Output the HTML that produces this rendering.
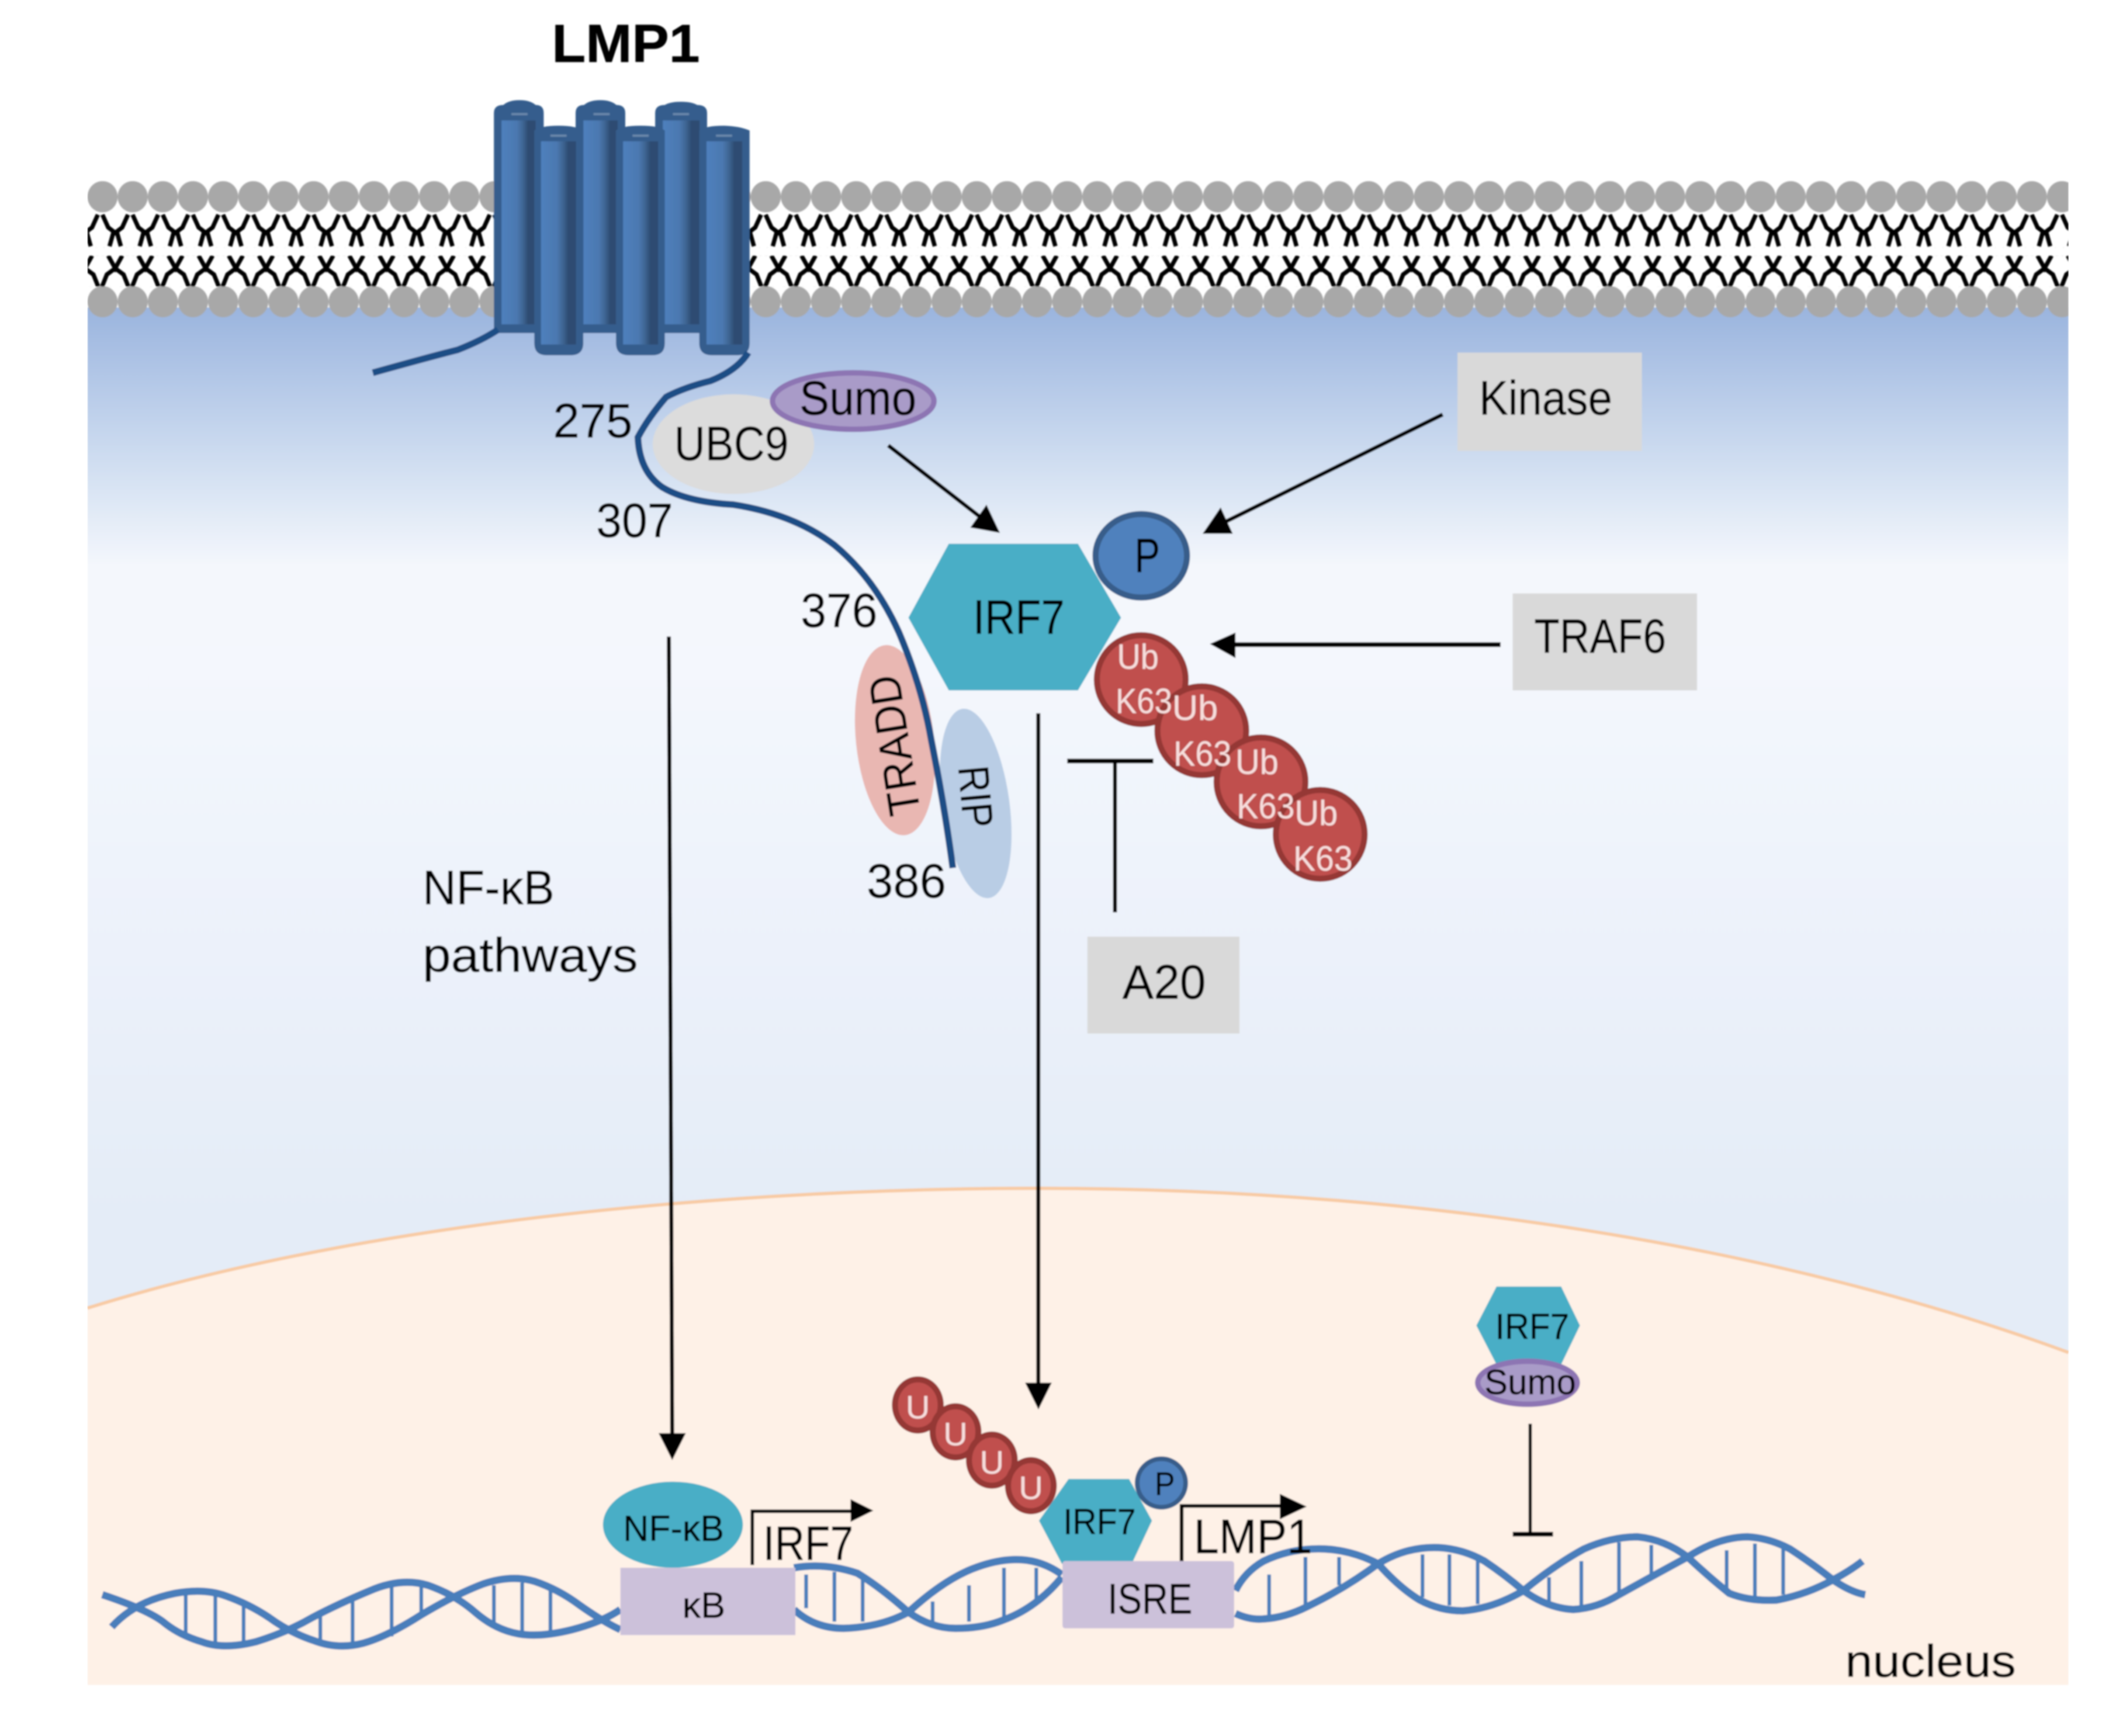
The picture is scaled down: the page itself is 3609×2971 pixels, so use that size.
<!DOCTYPE html>
<html>
<head>
<meta charset="utf-8">
<style>
html,body{margin:0;padding:0;background:#fff}
svg{display:block}
text{font-family:"Liberation Sans","DejaVu Sans",sans-serif;fill:#000;stroke:#000;stroke-width:.25}
text.w{fill:#f7dedd;stroke:none}
</style>
</head>
<body>
<svg xmlns="http://www.w3.org/2000/svg" width="3609" height="2971" viewBox="0 0 1567.1 1290" preserveAspectRatio="none">
<defs>
<linearGradient id="cyt" gradientUnits="userSpaceOnUse" x1="0" y1="228" x2="0" y2="900">
<stop offset="0" stop-color="#9ab4de"/>
<stop offset="0.174" stop-color="#d0def1"/>
<stop offset="0.286" stop-color="#f4f7fc"/>
<stop offset="0.4" stop-color="#f4f7fd"/>
<stop offset="1" stop-color="#e4ecf7"/>
</linearGradient>
<linearGradient id="cyl" x1="0" y1="0" x2="1" y2="0">
<stop offset="0" stop-color="#4f80bd"/>
<stop offset="0.45" stop-color="#4b78b0"/>
<stop offset="0.62" stop-color="#3f6694"/>
<stop offset="0.78" stop-color="#2d4c72"/>
<stop offset="1" stop-color="#2d4c72"/>
</linearGradient>
<pattern id="headsT" patternUnits="userSpaceOnUse" x="65" y="134.5" width="22.4" height="23.5">
<ellipse cx="11.2" cy="11.7" rx="11.2" ry="11.6" fill="#a8a8a8"/>
</pattern>
<pattern id="headsB" patternUnits="userSpaceOnUse" x="65" y="212.5" width="22.4" height="23.5">
<ellipse cx="11.2" cy="11.7" rx="11.2" ry="11.6" fill="#a8a8a8"/>
</pattern>
<pattern id="t1" patternUnits="userSpaceOnUse" x="74.4" y="159" width="22.4" height="25">
<path d="M1.7 0.5 L6 10 L11.2 14 L16.4 10 L20.7 0.5 M9.8 14 L7 24 M12.6 14 L15.4 24" fill="none" stroke="#000" stroke-width="3.2"/>
</pattern>
<pattern id="t2" patternUnits="userSpaceOnUse" x="74.4" y="190" width="22.4" height="23">
<path d="M6 0 L11.2 9.4 L16.4 0 M11.2 9.4 L5 14 L1.4 23 M11.2 9.4 L17.4 14 L21 23" fill="none" stroke="#000" stroke-width="3.2"/>
</pattern>
<filter id="soft" x="0" y="0" width="100%" height="100%" filterUnits="objectBoundingBox">
<feGaussianBlur stdDeviation="0.55"/>
</filter>
<g id="ub">
<ellipse cx="0" cy="0" rx="33" ry="33" fill="#c0504d" stroke="#953735" stroke-width="4.5"/>
</g>
</defs>

<rect width="1567.1" height="1290" fill="#fff"/>
<g filter="url(#soft)">

<!-- cytoplasm -->
<rect x="65" y="228.5" width="1472" height="1023.5" fill="url(#cyt)"/>

<!-- nucleus -->
<path d="M65 972 C280 905 560 883 770 883 C1050 883 1320 925 1537 1005 V1252 H65 Z" fill="#fef1e7"/>
<path d="M65 972 C280 905 560 883 770 883 C1050 883 1320 925 1537 1005" fill="none" stroke="#f8cba4" stroke-width="2.5"/>

<!-- membrane -->
<rect x="65" y="134.5" width="1472" height="23.5" fill="url(#headsT)"/>
<rect x="65" y="212.5" width="1472" height="23.5" fill="url(#headsB)"/>
<rect x="65" y="159" width="1472" height="25" fill="url(#t1)"/>
<rect x="65" y="190" width="1472" height="23" fill="url(#t2)"/>

<!-- LMP1 helices (back) -->
<g fill="#365d8d">
<path d="M367 84 Q367 78 374 78 Q378 74.4 386 74.4 Q394 74.4 398 78 Q404 78 404 84 V247.5 H367Z"/>
<path d="M427.7 84 Q427.7 78 434 78 Q438 74.4 446 74.4 Q454 74.4 458 78 Q464.6 78 464.6 84 V247.5 H427.7Z"/>
<path d="M486.8 84 Q486.8 78 494 78 Q498 75.6 506 75.6 Q514 75.6 518 78 Q525.4 78 525.4 84 V247.5 H486.8Z"/>
</g>
<g fill="url(#cyl)">
<rect x="372.7" y="89.5" width="25.3" height="151.5"/>
<rect x="433.5" y="89.5" width="25.5" height="151.5"/>
<rect x="492.5" y="89.5" width="27.3" height="151.5"/>
</g>
<!-- front -->
<g fill="#365d8d">
<path d="M397 97 Q402 93.4 415 93.4 Q428 93.4 433.4 97 V255 Q433.4 264 424 264 H406 Q397 264 397 255Z"/>
<path d="M457.7 97 Q462 93.4 476 93.4 Q490 93.4 494 97 V255 Q494 264 485 264 H467 Q457.7 264 457.7 255Z"/>
<path d="M519.6 97 Q524 93.4 538 93.4 Q550 93.8 557 97 V255 Q557 264 548 264 H529 Q519.6 264 519.6 255Z"/>
</g>
<g fill="url(#cyl)">
<rect x="402" y="105" width="26" height="151"/>
<rect x="463" y="105" width="26" height="151"/>
<rect x="525" y="105" width="26.5" height="151"/>
</g>
<g fill="#6a88ab">
<rect x="380" y="84" width="12" height="1.6"/><rect x="441" y="84" width="12" height="1.6"/><rect x="500" y="84" width="12" height="1.6"/>
<rect x="409" y="100" width="12" height="1.6"/><rect x="470" y="100" width="12" height="1.6"/><rect x="532" y="100" width="12" height="1.6"/>
</g>

<text x="410" y="46" font-size="40" font-weight="bold" textLength="110" lengthAdjust="spacingAndGlyphs">LMP1</text>

<!-- UBC9 / Sumo -->
<ellipse cx="545" cy="330" rx="60" ry="37" fill="#dcdcdc"/>
<ellipse cx="634" cy="298" rx="60" ry="21" fill="#a99bc8" stroke="#8d74b3" stroke-width="4"/>

<!-- TRADD / RIP -->
<ellipse cx="665" cy="550" rx="29" ry="71" fill="#e9b7b2" transform="rotate(-6 665 550)"/>
<ellipse cx="725" cy="597" rx="25" ry="71" fill="#b9cde5" transform="rotate(-8 725 597)"/>

<!-- LMP1 tails -->
<path d="M277 277 Q320 265 340 260 Q358 253 370 245" fill="none" stroke="#1f4e85" stroke-width="5"/>
<path d="M556 262 Q548 275 528 283 Q508 288 495 295 Q482 310 474 325 Q475 350 492 362 Q510 373 545 375 Q590 382 620 405 Q650 430 668 470 Q685 510 692 550 Q702 600 708 645" fill="none" stroke="#1f4e85" stroke-width="5"/>

<!-- IRF7 -->
<polygon points="705,404 801,404 833,459 801,513 705,513 675,459" fill="#4aaec6"/>
<ellipse cx="848" cy="413" rx="34" ry="31" fill="#4f81bd" stroke="#385d8a" stroke-width="4.5"/>

<!-- Ub chain -->
<use href="#ub" x="848" y="505"/>
<use href="#ub" x="893" y="543"/>
<use href="#ub" x="937" y="581"/>
<use href="#ub" x="981" y="620"/>

<!-- boxes -->
<rect x="1083" y="262" width="137" height="73" fill="#d9d9d9"/>
<rect x="1124" y="441" width="137" height="72" fill="#d9d9d9"/>
<rect x="808" y="696" width="113" height="72" fill="#d9d9d9"/>

<!-- connectors -->
<g stroke="#000" fill="none">
<line x1="660" y1="331" x2="732" y2="387" stroke-width="3"/>
<line x1="1072" y1="308" x2="908" y2="389" stroke-width="3"/>
<line x1="1115" y1="479" x2="915" y2="479" stroke-width="3.5"/>
<line x1="497" y1="473" x2="499.5" y2="1070" stroke-width="3"/>
<line x1="771.5" y1="530" x2="771.5" y2="1032" stroke-width="3"/>
<line x1="793" y1="565.5" x2="857" y2="565.5" stroke-width="3.5"/>
<line x1="828.5" y1="565" x2="828.5" y2="678" stroke-width="3"/>
<line x1="1137" y1="1058" x2="1137" y2="1140" stroke-width="2.5"/>
<line x1="1124" y1="1140" x2="1154" y2="1140" stroke-width="3.5"/>
</g>
<g fill="#000">
<polygon points="743,396 733,375 721,392"/>
<polygon points="893.6,396.6 907,377 916,396.6"/>
<polygon points="899,478.5 918,470 918,489"/>
<polygon points="489.4,1065 509.6,1065 499.5,1085"/>
<polygon points="761.7,1027.5 781.5,1027.5 771.6,1047.4"/>
</g>

<!-- DNA -->
<g fill="none" stroke="#4a7ebb" stroke-width="5.5" stroke-linecap="butt">
<path d="M76 1185 Q109 1196 121 1205 Q133 1215 150 1220 Q166 1226 190 1220 Q213 1213 232 1202 Q251 1192 275 1182 Q298 1172 318 1178 Q338 1185 353 1198 Q368 1211 385 1214 Q401 1217 425 1211 Q448 1205 461 1196"/>
<path d="M83 1209 Q100 1190 130 1184 Q152 1180 168 1186 Q185 1192 200 1202 Q215 1213 233 1219 Q251 1226 270 1221 Q288 1216 313 1200 Q338 1185 359 1177 Q380 1170 397 1175 Q415 1181 431 1193 Q448 1205 461 1211"/>
<path d="M590 1165 Q613 1161 637 1169 Q655 1180 675 1198 Q692 1210 710 1210 Q730 1210 745 1204 Q770 1195 789 1172"/>
<path d="M590 1196 Q605 1210 627 1210 Q655 1209 675 1198 Q700 1175 722 1166 Q742 1158 759 1159 Q775 1160 789 1170"/>
<path d="M918 1182 Q925 1168 939 1160 Q960 1150 984 1151 Q1005 1152 1024 1162 Q1040 1180 1055 1189 Q1070 1197 1087 1197 Q1110 1195 1132 1182 Q1155 1163 1177 1151 Q1197 1142 1217 1142 Q1237 1144 1254 1157 Q1270 1172 1285 1184 Q1300 1190 1320 1189 Q1342 1185 1362 1174 Q1375 1167 1384 1160"/>
<path d="M918 1199 Q929 1204 939 1203 Q955 1202 971 1194 Q1000 1180 1024 1162 Q1045 1149 1069 1150 Q1087 1151 1103 1160 Q1118 1170 1132 1182 Q1150 1195 1169 1196 Q1187 1195 1203 1185 Q1230 1170 1254 1157 Q1277 1142 1299 1142 Q1315 1143 1330 1151 Q1347 1162 1362 1174 Q1375 1183 1386 1185"/>
</g>
<path d="M138 1185V1215M160 1183V1222M181 1190V1220M238 1198V1220M262 1190V1222M291 1177V1216M313 1178V1198M367 1178V1208M388 1176V1212M409 1178V1212M599 1170V1195M620 1168V1205M641 1172V1205M693 1190V1205M720 1178V1205M746 1165V1203M770 1165V1190M943 1170V1200M970 1157V1194M995 1157V1178M1057 1155V1187M1077 1155V1193M1098 1158V1192M1151 1172V1192M1175 1160V1193M1203 1146V1184M1227 1148V1172M1283 1152V1180M1304 1147V1186M1325 1150V1185" stroke="#4a7ebb" stroke-width="2.8" fill="none"/>

<!-- kB complex -->
<ellipse cx="500" cy="1133" rx="52" ry="32" fill="#4aaec6"/>
<rect x="461" y="1165" width="130" height="50" fill="#ccc1da"/>
<path d="M559 1163 V1123 H634" fill="none" stroke="#000" stroke-width="2.6"/>
<polygon points="632,1114 649,1122.5 632,1131" fill="#000"/>

<!-- U chain -->
<g fill="#c0504d" stroke="#953735" stroke-width="4.5">
<ellipse cx="682" cy="1044" rx="17" ry="19"/>
<ellipse cx="710" cy="1064" rx="17" ry="19"/>
<ellipse cx="737" cy="1085" rx="17" ry="19"/>
<ellipse cx="766" cy="1104" rx="17" ry="19"/>
</g>

<!-- ISRE complex -->
<polygon points="794,1099 839,1099 856,1130 841,1162 789,1162 772,1130" fill="#4aaec6"/>
<ellipse cx="863" cy="1102" rx="18" ry="18" fill="#4f81bd" stroke="#385d8a" stroke-width="3.5"/>
<rect x="789.5" y="1160" width="127.5" height="50" rx="2" fill="#ccc1da"/>
<path d="M878 1160 V1119 H954" fill="none" stroke="#000" stroke-width="2.8"/>
<polygon points="951,1110 971,1119.5 951,1129" fill="#000"/>

<!-- IRF7-Sumo -->
<polygon points="1112,956 1160,956 1174,985 1160,1014 1112,1014 1097,985" fill="#4aaec6"/>
<ellipse cx="1135" cy="1027.5" rx="37" ry="16" fill="#a99bc8" stroke="#8d74b3" stroke-width="4"/>

<!-- labels -->
<g font-size="36">
<text x="411" y="325" textLength="59" lengthAdjust="spacingAndGlyphs">275</text>
<text x="443" y="399" textLength="57" lengthAdjust="spacingAndGlyphs">307</text>
<text x="595" y="466" textLength="57" lengthAdjust="spacingAndGlyphs">376</text>
<text x="644" y="667" textLength="59" lengthAdjust="spacingAndGlyphs">386</text>
<text x="501" y="342" textLength="85" lengthAdjust="spacingAndGlyphs">UBC9</text>
<text x="594" y="308" textLength="87" lengthAdjust="spacingAndGlyphs">Sumo</text>
<text x="1099" y="308" textLength="99" lengthAdjust="spacingAndGlyphs">Kinase</text>
<text x="1140" y="485" textLength="98" lengthAdjust="spacingAndGlyphs">TRAF6</text>
<text x="834" y="742" textLength="62" lengthAdjust="spacingAndGlyphs">A20</text>
<text x="723" y="471" textLength="68" lengthAdjust="spacingAndGlyphs">IRF7</text>
<text x="843" y="425" textLength="19" lengthAdjust="spacingAndGlyphs">P</text>
<text x="314" y="672" textLength="98" lengthAdjust="spacingAndGlyphs">NF-κB</text>
<text x="314" y="722" textLength="160" lengthAdjust="spacingAndGlyphs">pathways</text>
<text x="567" y="1159" textLength="67" lengthAdjust="spacingAndGlyphs">IRF7</text>
<text x="887" y="1154" textLength="88" lengthAdjust="spacingAndGlyphs">LMP1</text>
<text x="1371" y="1246" font-size="34" textLength="127" lengthAdjust="spacingAndGlyphs">nucleus</text>
</g>
<text transform="translate(684 604) rotate(-99)" font-size="33" textLength="105" lengthAdjust="spacingAndGlyphs">TRADD</text>
<text transform="translate(712 570) rotate(85)" font-size="32" textLength="46" lengthAdjust="spacingAndGlyphs">RIP</text>

<g font-size="27">
<text x="463" y="1145" textLength="75" lengthAdjust="spacingAndGlyphs">NF-κB</text>
<text x="507" y="1202" textLength="32" lengthAdjust="spacingAndGlyphs">κB</text>
<text x="790" y="1140" textLength="54" lengthAdjust="spacingAndGlyphs">IRF7</text>
<text x="858" y="1111" font-size="24" textLength="15" lengthAdjust="spacingAndGlyphs">P</text>
<text x="823" y="1199" font-size="32" textLength="63" lengthAdjust="spacingAndGlyphs">ISRE</text>
<text x="1111" y="995" textLength="55" lengthAdjust="spacingAndGlyphs">IRF7</text>
<text x="1103" y="1036" font-size="26" textLength="68" lengthAdjust="spacingAndGlyphs">Sumo</text>
</g>

<g font-size="26">
<text class="w" x="830" y="497" textLength="31" lengthAdjust="spacingAndGlyphs">Ub</text>
<text class="w" x="829" y="530" textLength="42" lengthAdjust="spacingAndGlyphs">K63</text>
<text class="w" x="871" y="535" textLength="34" lengthAdjust="spacingAndGlyphs">Ub</text>
<text class="w" x="872" y="569" textLength="43" lengthAdjust="spacingAndGlyphs">K63</text>
<text class="w" x="918" y="575" textLength="32" lengthAdjust="spacingAndGlyphs">Ub</text>
<text class="w" x="919" y="608" textLength="43" lengthAdjust="spacingAndGlyphs">K63</text>
<text class="w" x="962" y="613" textLength="32" lengthAdjust="spacingAndGlyphs">Ub</text>
<text class="w" x="961" y="647" textLength="44" lengthAdjust="spacingAndGlyphs">K63</text>
</g>
<g font-size="24">
<text class="w" x="673" y="1054" textLength="18" lengthAdjust="spacingAndGlyphs">U</text>
<text class="w" x="701" y="1074" textLength="18" lengthAdjust="spacingAndGlyphs">U</text>
<text class="w" x="728" y="1095" textLength="18" lengthAdjust="spacingAndGlyphs">U</text>
<text class="w" x="757" y="1114" textLength="18" lengthAdjust="spacingAndGlyphs">U</text>
</g>
</g>
</svg>
</body>
</html>
